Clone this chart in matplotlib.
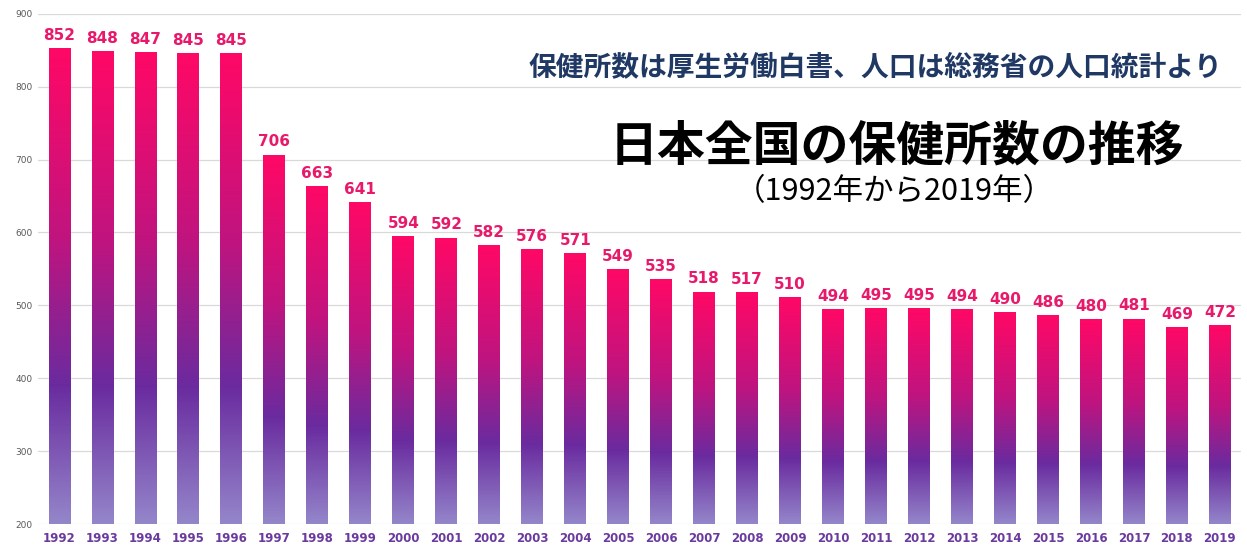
import numpy as np
import matplotlib
matplotlib.use("Agg")
import matplotlib.pyplot as plt
from matplotlib.colors import LinearSegmentedColormap

# 保健所数（厚生労働白書）
years = [str(y) for y in range(1992, 2020)]
counts = [852, 848, 847, 845, 845, 706, 663, 641, 594, 592, 582, 576, 571, 549,
          535, 518, 517, 510, 494, 495, 495, 494, 490, 486, 480, 481, 469, 472]
yticks = [200, 300, 400, 500, 600, 700, 800, 900]

title = "日本全国の保健所数の推移"
period = "（1992年から2019年）"
source = "保健所数は厚生労働白書、人口は総務省の人口統計より"

jp = ["Noto Sans CJK JP", "DejaVu Sans"]

# 棒ごとのグラデーション（下：薄紫 → 紫 → ピンク：上）
grad = LinearSegmentedColormap.from_list(
    "bar", [(0.0, "#9486ca"), (0.29, "#6a2b9f"), (0.6, "#c0147f"), (1.0, "#ff0866")])

fig = plt.figure(figsize=(12.47, 5.5), dpi=100)
ax = fig.add_axes([0.0305, 0.047, 0.965, 0.928])

bars = ax.bar(range(len(years)), counts, width=0.51, color="none", zorder=2)
g = np.linspace(0, 1, 256).reshape(-1, 1)
for b in bars:
    x0 = b.get_x()
    ax.imshow(g, cmap=grad, origin="lower", aspect="auto", zorder=2,
              extent=[x0, x0 + b.get_width(), 200, b.get_height()])
    ax.text(x0 + b.get_width() / 2, b.get_height() + 8, f"{int(b.get_height())}",
            ha="center", va="bottom", fontsize=11, fontweight="bold", color="#e8196b")
ax.set_xlim(-0.5, len(years) - 0.5)
ax.set_ylim(200, 900)

ax.set_yticks(yticks)
ax.set_yticklabels([str(v) for v in yticks], fontsize=6.5, color="#595959")
ax.set_xticks(range(len(years)))
ax.set_xticklabels(years, fontsize=8.5, fontweight="bold", color="#6a3a9e")
ax.tick_params(length=0, pad=6)
ax.tick_params(axis="y", pad=4)
ax.grid(axis="y", color="#d9d9d9", linewidth=0.9, zorder=0)
ax.set_axisbelow(True)
for s in ax.spines.values():
    s.set_visible(False)

fig.text(0.702, 0.877, source, ha="center", va="center", fontsize=20,
         fontweight="bold", color="#1f3864", family=jp)
fig.text(0.719, 0.735, title, ha="center", va="center", fontsize=34.5,
         fontweight="bold", color="black", family=jp)
fig.text(0.717, 0.652, period, ha="center", va="center", fontsize=22,
         color="black", family=jp)

fig.savefig("out.png", dpi=100)
